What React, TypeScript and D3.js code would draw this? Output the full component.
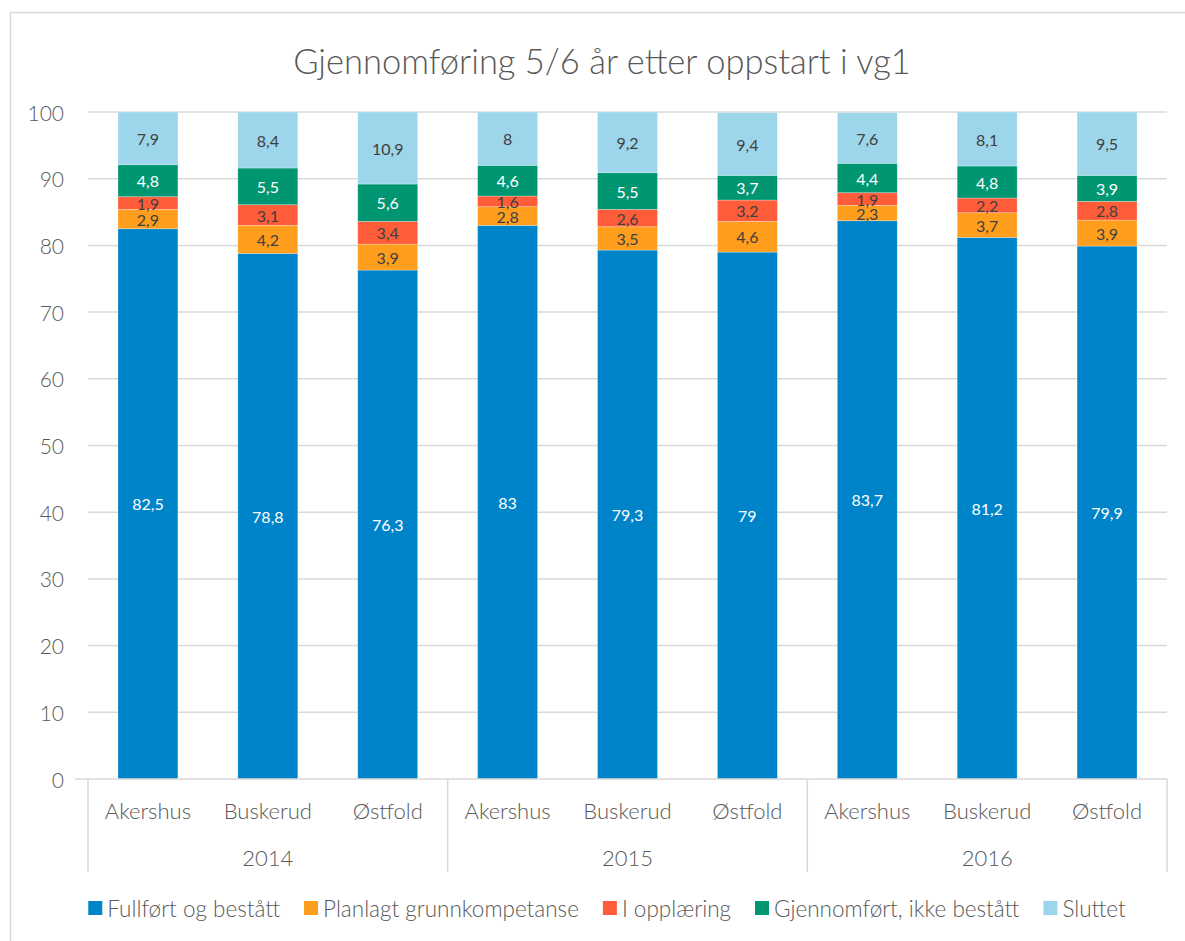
import React, { useEffect, useRef } from "react";
import * as d3 from "d3";

const years = ["2014", "2015", "2016"];
const counties = ["Akershus", "Buskerud", "Østfold"];
const seriesNames = [
  "Fullført og bestått",
  "Planlagt grunnkompetanse",
  "I opplæring",
  "Gjennomført, ikke bestått",
  "Sluttet",
];
const seriesColors = ["#0084C9", "#FF9E1C", "#FF5C3A", "#009672", "#9DD6EA"];
const labelColors = ["#ffffff", "#404040", "#404040", "#ffffff", "#404040"];

// order: 2014 Ak, Bu, Øs, 2015 Ak, Bu, Øs, 2016 Ak, Bu, Øs
const fullfort = [82.5, 78.8, 76.3, 83, 79.3, 79, 83.7, 81.2, 79.9];
const planlagt = [2.9, 4.2, 3.9, 2.8, 3.5, 4.6, 2.3, 3.7, 3.9];
const iOpplaering = [1.9, 3.1, 3.4, 1.6, 2.6, 3.2, 1.9, 2.2, 2.8];
const gjennomfort = [4.8, 5.5, 5.6, 4.6, 5.5, 3.7, 4.4, 4.8, 3.9];
const sluttet = [7.9, 8.4, 10.9, 8, 9.2, 9.4, 7.6, 8.1, 9.5];
const yTicks = [0, 10, 20, 30, 40, 50, 60, 70, 80, 90, 100];

const FONT = "Lato, 'Open Sans', sans-serif";
const TEXT = "#595959";

export default function App() {
  const ref = useRef<SVGSVGElement | null>(null);

  useEffect(() => {
    const svg = d3.select(ref.current);
    svg.selectAll("*").remove();
    const W = 1185, H = 941;
    const left = 88, right = 1167, top = 112, bottom = 779;

    svg.append("rect").attr("x", 10.5).attr("y", 12.5).attr("width", W + 20).attr("height", H + 20)
      .attr("fill", "#fff").attr("stroke", "#D9D9D9").attr("stroke-width", 1.5);

    svg.append("text").attr("x", 602).attr("y", 60).attr("text-anchor", "middle")
      .attr("dominant-baseline", "central").attr("font-family", FONT).attr("font-weight", 300)
      .attr("font-size", 34.5).attr("fill", TEXT).text("Gjennomføring 5/6 år etter oppstart i vg1");

    const cats = years.flatMap((yr) => counties.map((c) => `${yr}|${c}`));
    const x = d3.scaleBand().domain(cats).range([left, right]).paddingInner(0.5).paddingOuter(0.25);
    const y = d3.scaleLinear().domain([0, 100]).range([bottom, top]);

    const g = svg.append("g");
    yTicks.forEach((t) => {
      if (t > 0) g.append("line").attr("x1", left).attr("x2", right).attr("y1", y(t)).attr("y2", y(t))
        .attr("stroke", "#D9D9D9").attr("stroke-width", 1.5);
      g.append("text").attr("x", 64).attr("y", y(t)).attr("text-anchor", "end")
        .attr("dominant-baseline", "central").attr("font-family", FONT).attr("font-weight", 300)
        .attr("font-size", 21).attr("fill", TEXT).text(String(t));
    });

    const table = cats.map((c, i) => ({
      cat: c,
      s0: fullfort[i], s1: planlagt[i], s2: iOpplaering[i], s3: gjennomfort[i], s4: sluttet[i],
    }));
    const keys = ["s0", "s1", "s2", "s3", "s4"];
    const stacked = d3.stack<any>().keys(keys)(table);

    stacked.forEach((layer, si) => {
      layer.forEach((d) => {
        const y0 = Math.min(d[0], 100), y1 = Math.min(d[1], 100);
        const cat = (d.data as any).cat;
        g.append("rect").attr("x", x(cat)!).attr("width", x.bandwidth())
          .attr("y", y(y1)).attr("height", y(y0) - y(y1)).attr("fill", seriesColors[si])
          .attr("stroke", "rgba(255,255,255,0.35)").attr("stroke-width", 0.75);
      });
    });
    stacked.forEach((layer, si) => {
      layer.forEach((d) => {
        const y0 = Math.min(d[0], 100), y1 = Math.min(d[1], 100);
        const cat = (d.data as any).cat;
        const v = d[1] - d[0];
        g.append("text").attr("x", x(cat)! + x.bandwidth() / 2).attr("y", y((y0 + y1) / 2))
          .attr("text-anchor", "middle").attr("dominant-baseline", "central")
          .attr("font-family", FONT).attr("font-weight", 400).attr("font-size", 16).attr("fill", labelColors[si])
          .text(String(Math.round(v * 10) / 10).replace(".", ","));
      });
    });

    // x axis
    g.append("line").attr("x1", 75).attr("x2", right).attr("y1", bottom).attr("y2", bottom)
      .attr("stroke", "#D9D9D9").attr("stroke-width", 1.5);
    const groupW = (right - left) / years.length;
    for (let i = 0; i <= years.length; i++) {
      const gx = left + i * groupW;
      g.append("line").attr("x1", gx).attr("x2", gx).attr("y1", bottom).attr("y2", 872)
        .attr("stroke", "#D9D9D9").attr("stroke-width", 1.5);
    }
    cats.forEach((c) => {
      g.append("text").attr("x", x(c)! + x.bandwidth() / 2).attr("y", 810).attr("text-anchor", "middle")
        .attr("dominant-baseline", "central").attr("font-family", FONT).attr("font-weight", 300)
        .attr("font-size", 22).attr("fill", TEXT).text(c.split("|")[1]);
    });
    years.forEach((yr, i) => {
      g.append("text").attr("x", left + (i + 0.5) * groupW).attr("y", 857).attr("text-anchor", "middle")
        .attr("dominant-baseline", "central").attr("font-family", FONT).attr("font-weight", 300)
        .attr("font-size", 22).attr("fill", TEXT).text(yr);
    });

    // legend
    const lg = svg.append("g");
    const items: any[] = [];
    let cx = 0;
    const gap = 24;
    seriesNames.forEach((n, i) => {
      const it = lg.append("g");
      it.append("rect").attr("x", 0).attr("y", -7).attr("width", 14).attr("height", 14).attr("fill", seriesColors[i]);
      const t = it.append("text").attr("x", 19).attr("y", 0).attr("dominant-baseline", "central")
        .attr("font-family", FONT).attr("font-weight", 300).attr("font-size", 22.5).attr("fill", TEXT).text(n);
      const w = 19 + (t.node() as SVGTextElement).getComputedTextLength();
      items.push({ it, x: cx });
      cx += w + gap;
    });
    const total = cx - gap;
    const startX = 607 - total / 2;
    items.forEach(({ it, x: ox }) => it.attr("transform", `translate(${startX + ox},908)`));
  }, []);

  return <svg ref={ref} width={1185} height={941} style={{ display: "block", position: "absolute", left: 0, top: 0 }} />;
}
